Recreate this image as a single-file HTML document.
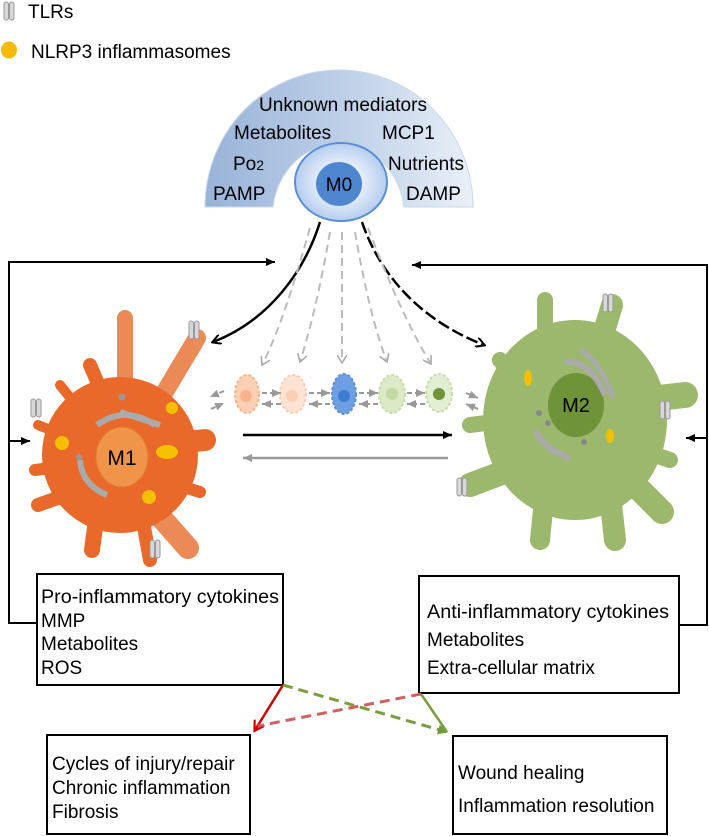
<!DOCTYPE html>
<html><head><meta charset="utf-8"><style>
html,body{margin:0;padding:0;background:#fff;}
svg{display:block;font-family:"Liberation Sans",Arial,sans-serif;}
</style></head><body>
<svg width="709" height="836" viewBox="0 0 709 836" xmlns="http://www.w3.org/2000/svg">
<defs>
<linearGradient id="arcg" x1="0" y1="0" x2="1" y2="0">
<stop offset="0" stop-color="#98b3d8"/><stop offset="0.6" stop-color="#c4d4ea"/><stop offset="1" stop-color="#eaf0f8"/>
</linearGradient>
<radialGradient id="m0g" cx="0.5" cy="0.5" r="0.5">
<stop offset="0.5" stop-color="#e3ecf8"/><stop offset="1" stop-color="#b5cdef"/>
</radialGradient>
<marker id="ab" markerWidth="10" markerHeight="10" refX="8" refY="5" orient="auto" markerUnits="userSpaceOnUse">
<path d="M0,0 L9,5 L0,10" fill="none" stroke="#000" stroke-width="2"/></marker>
<marker id="af" markerWidth="10" markerHeight="10" refX="9" refY="5" orient="auto" markerUnits="userSpaceOnUse">
<path d="M0,1 L9,5 L0,9 Z" fill="#000"/></marker>
<marker id="ag" markerWidth="10" markerHeight="10" refX="9" refY="5" orient="auto" markerUnits="userSpaceOnUse">
<path d="M0,1 L9,5 L0,9 Z" fill="#999"/></marker>
<marker id="ag2" markerWidth="10" markerHeight="10" refX="8" refY="5" orient="auto" markerUnits="userSpaceOnUse">
<path d="M0,0 L8,5 L0,10" fill="none" stroke="#aaa" stroke-width="1.6"/></marker>
<marker id="ar" markerWidth="12" markerHeight="12" refX="9" refY="6" orient="auto" markerUnits="userSpaceOnUse">
<path d="M0,0 L10,6 L0,12" fill="none" stroke="#c00" stroke-width="2.2"/></marker>
<marker id="agr" markerWidth="12" markerHeight="12" refX="9" refY="6" orient="auto" markerUnits="userSpaceOnUse">
<path d="M0,1 L10,6 L0,11 Z" fill="#6f9a3a"/></marker>
<g id="tlr"><rect x="-5" y="-9" width="4.5" height="18" rx="2.2" fill="#d8d8d8" stroke="#999" stroke-width="1"/><rect x="0.5" y="-9" width="4.5" height="18" rx="2.2" fill="#d8d8d8" stroke="#999" stroke-width="1"/></g>
</defs>

<!-- legend -->
<use href="#tlr" x="9" y="11"/>
<text x="28" y="18" font-size="19">TLRs</text>
<ellipse cx="9" cy="50" rx="8" ry="8.5" fill="#f6bb00"/>
<text x="31" y="58" font-size="19">NLRP3 inflammasomes</text>

<!-- arc -->
<path d="M205,207 A134,137 0 0 1 473,207 L404,207 A66,72 0 0 0 273,207 Z" fill="url(#arcg)" stroke="#c9d7ea" stroke-width="1"/>
<g font-size="19">
<text x="343" y="111" text-anchor="middle">Unknown mediators</text>
<text x="234" y="139">Metabolites</text>
<text x="382" y="139">MCP1</text>
<text x="233" y="170">Po<tspan font-size="14">2</tspan></text>
<text x="388" y="170">Nutrients</text>
<text x="213" y="200">PAMP</text>
<text x="406" y="200">DAMP</text>
</g>
<ellipse cx="341" cy="182" rx="46" ry="39" fill="url(#m0g)" stroke="#5a8fd8" stroke-width="2"/>
<ellipse cx="339" cy="184" rx="23" ry="22" fill="#4f86d0"/>
<text x="339" y="191" font-size="19" text-anchor="middle">M0</text>

<!-- feedback lines -->
<polyline points="37,623 9,623 9,262 275,262" fill="none" stroke="#000" stroke-width="2" marker-end="url(#af)"/>
<line x1="9" y1="441" x2="30" y2="441" stroke="#000" stroke-width="2" marker-end="url(#af)"/>
<polyline points="679,625 707,625 707,265 412,265" fill="none" stroke="#000" stroke-width="2" marker-end="url(#af)"/>
<line x1="707" y1="438" x2="686" y2="438" stroke="#000" stroke-width="2" marker-end="url(#af)"/>

<!-- M0 to M1/M2 -->
<path d="M320,222 C305,270 270,320 213,342" fill="none" stroke="#000" stroke-width="2.5" marker-end="url(#ab)"/>
<path d="M362,222 C380,275 420,320 484,345" fill="none" stroke="#000" stroke-width="2.5" stroke-dasharray="12,4" marker-end="url(#ab)"/>
<g fill="none" stroke="#bbb" stroke-width="2" stroke-dasharray="8,5" marker-end="url(#ag2)">
<path d="M310,228 C295,280 280,330 262,365"/>
<path d="M330,232 C320,290 310,330 300,362"/>
<path d="M342,232 L342,363"/>
<path d="M355,232 C365,290 375,330 387,362"/>
<path d="M368,228 C390,285 410,330 431,364"/>
</g>

<!-- small cells -->
<g>
<ellipse cx="247" cy="394" rx="12" ry="19" fill="#fbd0b4" stroke="#f6b48a" stroke-width="2" stroke-dasharray="3,2"/>
<circle cx="246" cy="396" r="6" fill="#f7b48b"/>
<ellipse cx="293" cy="394" rx="13" ry="19" fill="#fde3d3" stroke="#f9cbb0" stroke-width="2" stroke-dasharray="3,2"/>
<circle cx="292" cy="396" r="6" fill="#fbcfb3"/>
<ellipse cx="344" cy="394" rx="12" ry="20" fill="#6f9fe3" stroke="#5b8fdc" stroke-width="2" stroke-dasharray="3,2"/>
<circle cx="344" cy="396" r="6" fill="#3e7bd3"/>
<ellipse cx="392" cy="394" rx="13" ry="19" fill="#dbe9c6" stroke="#c5dca6" stroke-width="2" stroke-dasharray="3,2"/>
<circle cx="392" cy="394" r="6" fill="#c2d9a0"/>
<ellipse cx="439" cy="393" rx="13" ry="19" fill="#e2eed2" stroke="#c5dca6" stroke-width="2" stroke-dasharray="3,2"/>
<circle cx="439" cy="394" r="6" fill="#6f9339"/>
</g>
<g stroke="#999" stroke-width="2" stroke-dasharray="5,3" fill="none" marker-end="url(#ag)">
<line x1="262" y1="393" x2="281" y2="393"/><line x1="281" y1="404" x2="262" y2="404"/>
<line x1="309" y1="393" x2="330" y2="393"/><line x1="330" y1="404" x2="309" y2="404"/>
<line x1="359" y1="393" x2="378" y2="393"/><line x1="378" y1="404" x2="359" y2="404"/>
<line x1="407" y1="393" x2="425" y2="393"/><line x1="425" y1="404" x2="407" y2="404"/>
<line x1="224" y1="391" x2="210" y2="397"/><line x1="211" y1="409" x2="224" y2="403"/>
<line x1="466" y1="393" x2="478" y2="398"/><line x1="478" y1="409" x2="466" y2="404"/>
</g>

<!-- horizontal arrows -->
<line x1="243" y1="435" x2="452" y2="435" stroke="#000" stroke-width="2.5" marker-end="url(#af)"/>
<line x1="448" y1="458" x2="243" y2="458" stroke="#999" stroke-width="2.5" marker-end="url(#ag)"/>

<!-- M1 cell -->
<g stroke-linecap="round" fill="none">
<line x1="125" y1="318" x2="125" y2="400" stroke="#ec8a57" stroke-width="16"/>
<line x1="197" y1="338" x2="160" y2="400" stroke="#ec8a57" stroke-width="18"/>
<line x1="188" y1="548" x2="150" y2="505" stroke="#ec8a57" stroke-width="22"/>
<line x1="150" y1="560" x2="140" y2="505" stroke="#e8692a" stroke-width="14"/>
<line x1="92" y1="550" x2="98" y2="505" stroke="#e8692a" stroke-width="16"/>
<line x1="38" y1="505" x2="80" y2="490" stroke="#e8692a" stroke-width="14"/>
<line x1="35" y1="470" x2="75" y2="465" stroke="#e8692a" stroke-width="12"/>
<line x1="38" y1="425" x2="75" y2="440" stroke="#e8692a" stroke-width="10"/>
<line x1="205" y1="440" x2="160" y2="445" stroke="#e8692a" stroke-width="22"/>
<line x1="200" y1="492" x2="160" y2="480" stroke="#e8692a" stroke-width="12"/>
<line x1="90" y1="365" x2="105" y2="400" stroke="#e8692a" stroke-width="14"/>
<line x1="60" y1="385" x2="80" y2="410" stroke="#e8692a" stroke-width="10"/>
</g>
<ellipse cx="120" cy="455" rx="78" ry="78" fill="#e8692a"/>
<ellipse cx="122" cy="457" rx="26" ry="30" fill="#f0944a" stroke="#e07a30" stroke-width="1"/>
<text x="122" y="465" font-size="21" text-anchor="middle">M1</text>
<path d="M97,425 Q125,405 155,425" fill="none" stroke="#aaa" stroke-width="6"/>
<path d="M120,412 L160,425" fill="none" stroke="#aaa" stroke-width="6"/>
<path d="M80,460 Q82,485 107,495" fill="none" stroke="#aaa" stroke-width="6"/>
<circle cx="122" cy="397" r="3.5" fill="#999"/><circle cx="79" cy="457" r="3" fill="#999"/>
<g fill="#f5c000"><circle cx="172" cy="408" r="6"/><circle cx="62" cy="443" r="7"/><ellipse cx="167" cy="452" rx="11" ry="7"/><circle cx="149" cy="497" r="7"/></g>
<use href="#tlr" x="194" y="330"/><use href="#tlr" x="36" y="408"/><use href="#tlr" x="155" y="549"/>

<!-- M2 cell -->
<g stroke-linecap="round" fill="none" stroke="#9cb86d">
<line x1="545" y1="300" x2="545" y2="350" stroke-width="16"/>
<line x1="612" y1="305" x2="600" y2="345" stroke-width="22"/>
<line x1="685" y1="395" x2="640" y2="400" stroke-width="26"/>
<line x1="470" y1="485" x2="515" y2="468" stroke-width="24"/>
<line x1="540" y1="540" x2="545" y2="490" stroke-width="20"/>
<line x1="615" y1="540" x2="610" y2="495" stroke-width="22"/>
<line x1="662" y1="512" x2="630" y2="480" stroke-width="24"/>
<line x1="470" y1="425" x2="510" y2="420" stroke-width="16"/>
<line x1="500" y1="360" x2="520" y2="385" stroke-width="16"/>
<line x1="670" y1="460" x2="640" y2="450" stroke-width="16"/>
</g>
<ellipse cx="575" cy="420" rx="92" ry="100" fill="#9cb86d"/>
<ellipse cx="576" cy="405" rx="28" ry="32" fill="#6f9339"/>
<text x="576" y="412" font-size="20" text-anchor="middle">M2</text>
<path d="M565,362 Q590,360 605,395" fill="none" stroke="#aaa" stroke-width="6"/>
<path d="M580,350 Q600,360 613,398" fill="none" stroke="#aaa" stroke-width="5"/>
<path d="M535,430 Q545,450 570,458" fill="none" stroke="#aaa" stroke-width="6"/>
<circle cx="539" cy="413" r="3" fill="#888"/><circle cx="548" cy="423" r="3" fill="#888"/><circle cx="584" cy="442" r="3" fill="#888"/>
<g fill="#f5c000"><ellipse cx="528" cy="378" rx="4" ry="8"/><ellipse cx="610" cy="436" rx="4" ry="7"/></g>
<use href="#tlr" x="608" y="303"/><use href="#tlr" x="665" y="410"/><use href="#tlr" x="462" y="487"/>

<!-- boxes -->
<g fill="none" stroke="#000" stroke-width="2">
<rect x="37" y="574" width="246" height="111"/>
<rect x="419" y="576" width="260" height="117"/>
<rect x="47" y="735" width="203" height="99"/>
<rect x="453" y="736" width="214" height="98"/>
</g>
<g font-size="19">
<text x="41" y="603" textLength="238" lengthAdjust="spacingAndGlyphs">Pro-inflammatory cytokines</text>
<text x="41" y="627">MMP</text>
<text x="41" y="650">Metabolites</text>
<text x="41" y="674">ROS</text>
<text x="427" y="618" textLength="242" lengthAdjust="spacingAndGlyphs">Anti-inflammatory cytokines</text>
<text x="427" y="646">Metabolites</text>
<text x="427" y="674">Extra-cellular matrix</text>
<text x="52" y="770">Cycles of injury/repair</text>
<text x="52" y="794">Chronic inflammation</text>
<text x="52" y="818">Fibrosis</text>
<text x="458" y="779">Wound healing</text>
<text x="458" y="812">Inflammation resolution</text>
</g>

<!-- crossing lines -->
<line x1="283" y1="685" x2="255" y2="730" stroke="#c00" stroke-width="2.5" marker-end="url(#ar)"/>
<line x1="283" y1="685" x2="447" y2="732" stroke="#7a9e3e" stroke-width="3" stroke-dasharray="10,6" marker-end="url(#agr)"/>
<line x1="421" y1="694" x2="258" y2="726" stroke="#d06060" stroke-width="3" stroke-dasharray="10,6"/>
<line x1="421" y1="694" x2="447" y2="732" stroke="#7a9e3e" stroke-width="2.5"/>
</svg>
</body></html>
